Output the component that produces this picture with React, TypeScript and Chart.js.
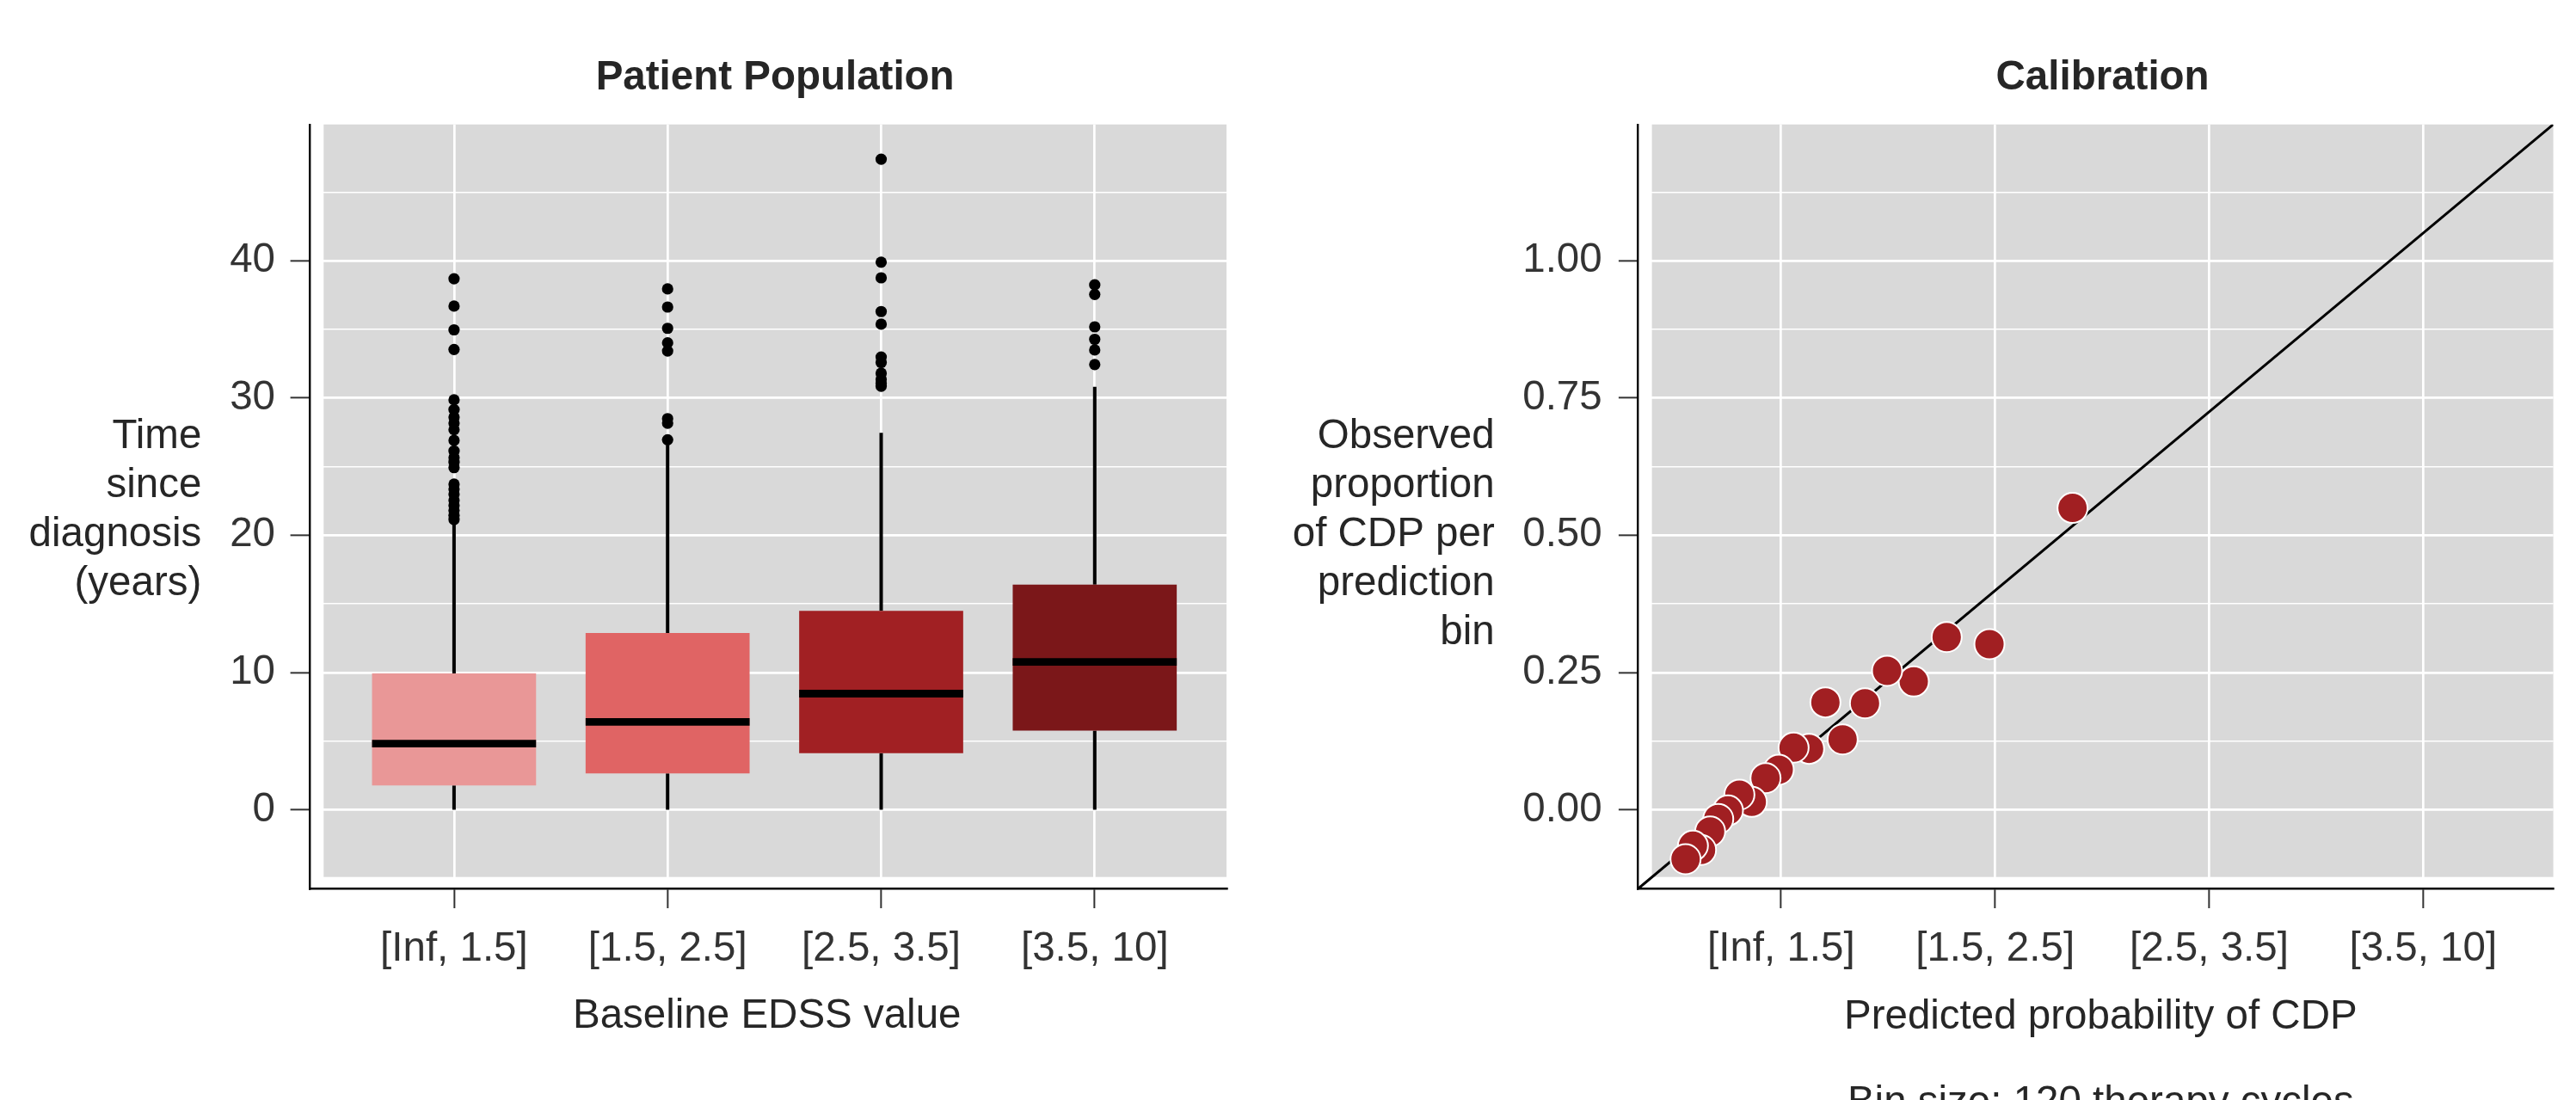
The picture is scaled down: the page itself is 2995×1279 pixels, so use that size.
import React, { useEffect, useRef } from 'react';
import { Chart, registerables } from 'chart.js';

Chart.register(...registerables);

// ---------------- data ----------------
const CATEGORIES = ['[Inf, 1.5]', '[1.5, 2.5]', '[2.5, 3.5]', '[3.5, 10]'];

const BOX_MIN = [0, 0, 0, 0];
const BOX_Q1 = [1.77, 2.65, 4.12, 5.77];
const BOX_MEDIAN = [4.82, 6.4, 8.46, 10.77];
const BOX_Q3 = [9.93, 12.87, 14.49, 16.4];
const BOX_MAX = [21.0, 26.58, 27.46, 30.81];

const OUTLIERS_1 = [38.68, 36.69, 34.96, 33.53, 29.86, 29.15, 28.6, 28.16, 27.68, 26.91, 26.14, 25.66, 25.33, 24.92, 23.72, 23.35, 22.98, 22.54, 22.17, 21.8, 21.44, 21.14];
const OUTLIERS_2 = [37.94, 36.62, 35.07, 34.01, 33.42, 28.49, 28.16, 26.95];
const OUTLIERS_3 = [47.39, 39.89, 38.75, 36.29, 35.37, 32.98, 32.58, 31.8, 31.36, 31.07, 30.85];
const OUTLIERS_4 = [38.24, 37.54, 35.18, 34.27, 33.49, 32.43];
const OUTLIERS = [OUTLIERS_1, OUTLIERS_2, OUTLIERS_3, OUTLIERS_4];

const LEFT_Y_MAJOR = [0, 10, 20, 30, 40];
const LEFT_Y_MINOR = [5, 15, 25, 35, 45];
const LEFT_X_RANGE = [-0.675, 3.617];
const LEFT_Y_RANGE = [-5.75, 49.92];

const PREDICTED = [2.3617, 1.9735, 1.7737, 1.6198, 1.4952, 1.3919, 1.2874, 1.207, 1.1306, 1.0583, 0.9887, 0.9273, 0.8629, 0.8051, 0.7516, 0.7062, 0.6684, 0.6258, 0.588, 0.5535];
const OBSERVED = [0.5497, 0.3015, 0.3145, 0.2337, 0.253, 0.1939, 0.1281, 0.1955, 0.1109, 0.1131, 0.0728, 0.0576, 0.0144, 0.0274, -0.0013, -0.0169, -0.0395, -0.0733, -0.0655, -0.0901];

const RIGHT_X_TICKS = [1, 2, 3, 4];
const RIGHT_Y_MAJOR = [0, 0.25, 0.5, 0.75, 1.0];
const RIGHT_Y_MINOR = [0.125, 0.375, 0.625, 0.875, 1.125];
const RIGHT_X_RANGE = [0.332, 4.608];
const RIGHT_Y_RANGE = [-0.1438, 1.2481];

// ---------------- style ----------------
const FONT = '"Liberation Sans", Arial, Helvetica, sans-serif';
const FONT_SIZE = 47.5;
const TICK_TEXT = '#333333';
const TITLE_TEXT = '#262626';
const PANEL_BG = '#D9D9D9';
const BOX_COLORS = ['#E99797', '#E06464', '#A12023', '#7B1719'];
const POINT_COLOR = '#A11F22';
const INSET_LEFT = 16;
const INSET_BOTTOM = 13.6;

type DecorCfg = {
  title: string;
  yTitle: string[];
  yTitleGap: number;
  xTitle: { text: string; dy: number }[];
  xTitleDx: number;
};

function makeDecor(cfg: DecorCfg) {
  return {
    id: 'panelDecor',
    beforeDraw(chart: any) {
      const { ctx, chartArea: a } = chart;
      ctx.save();
      ctx.fillStyle = PANEL_BG;
      ctx.fillRect(a.left + INSET_LEFT, a.top, a.right - a.left - INSET_LEFT, a.bottom - INSET_BOTTOM - a.top);
      ctx.restore();
    },
    afterDraw(chart: any) {
      const { ctx, chartArea: a } = chart;
      const grayCenter = (a.left + INSET_LEFT + a.right) / 2;
      ctx.save();
      ctx.textBaseline = 'alphabetic';
      // title
      ctx.fillStyle = TITLE_TEXT;
      ctx.font = `bold ${FONT_SIZE}px ${FONT}`;
      ctx.textAlign = 'center';
      ctx.fillText(cfg.title, grayCenter, a.top - 40.7);
      // y title (horizontal, right aligned)
      ctx.font = `${FONT_SIZE}px ${FONT}`;
      ctx.textAlign = 'right';
      cfg.yTitle.forEach((line, i) => {
        ctx.fillText(line, a.left - cfg.yTitleGap, a.top + 376.3 + i * 57);
      });
      // x title
      ctx.textAlign = 'center';
      cfg.xTitle.forEach((t) => {
        ctx.fillText(t.text, grayCenter + cfg.xTitleDx, a.bottom + t.dy);
      });
      ctx.restore();
    },
  };
}

const boxParts = {
  id: 'boxParts',
  beforeDatasetsDraw(chart: any) {
    const { ctx } = chart;
    const xs = chart.scales.x;
    const ys = chart.scales.y;
    ctx.save();
    ctx.strokeStyle = '#000';
    ctx.lineWidth = 4;
    ctx.lineCap = 'butt';
    CATEGORIES.forEach((_, i) => {
      const px = xs.getPixelForValue(i);
      ctx.beginPath();
      ctx.moveTo(px, ys.getPixelForValue(BOX_MIN[i]));
      ctx.lineTo(px, ys.getPixelForValue(BOX_Q1[i]));
      ctx.moveTo(px, ys.getPixelForValue(BOX_Q3[i]));
      ctx.lineTo(px, ys.getPixelForValue(BOX_MAX[i]));
      ctx.stroke();
    });
    ctx.restore();
  },
  afterDatasetsDraw(chart: any) {
    const { ctx } = chart;
    const ys = chart.scales.y;
    const meta = chart.getDatasetMeta(1);
    ctx.save();
    ctx.strokeStyle = '#000';
    ctx.lineWidth = 8.8;
    ctx.lineCap = 'butt';
    meta.data.forEach((bar: any, i: number) => {
      const { x, width } = bar.getProps(['x', 'width'], true);
      const py = ys.getPixelForValue(BOX_MEDIAN[i]);
      ctx.beginPath();
      ctx.moveTo(x - width / 2, py);
      ctx.lineTo(x + width / 2, py);
      ctx.stroke();
    });
    ctx.restore();
  },
};

const tickFont = { family: FONT, size: FONT_SIZE };

function yScale(range: number[], major: number[], minor: number[], width: number, fmt: (v: number) => string, padding: number) {
  const all = [...major, ...minor].sort((a, b) => a - b);
  const isMajor = (v: number) => major.includes(v);
  return {
    type: 'linear',
    min: range[0],
    max: range[1],
    afterBuildTicks: (s: any) => {
      s.ticks = all.map((v) => ({ value: v }));
    },
    afterFit: (s: any) => {
      s.width = width;
    },
    ticks: {
      callback: (v: number) => (isMajor(v) ? fmt(v) : ''),
      font: tickFont,
      color: TICK_TEXT,
      padding,
      autoSkip: false,
    },
    grid: {
      color: '#ffffff',
      lineWidth: (c: any) => (c.tick && isMajor(c.tick.value) ? 2.7 : 1.4),
      tickColor: (c: any) => (c.tick && isMajor(c.tick.value) ? '#333333' : 'rgba(0,0,0,0)'),
      tickLength: 22.7,
      tickWidth: 2,
    },
    border: { display: true, color: '#000000', width: 2.4 },
  };
}

function xScale(range: number[], ticks: number[], labelOf: (v: number) => string, height: number) {
  return {
    type: 'linear',
    min: range[0],
    max: range[1],
    offset: false,
    afterBuildTicks: (s: any) => {
      s.ticks = ticks.map((v) => ({ value: v }));
    },
    afterFit: (s: any) => {
      s.height = height;
    },
    ticks: {
      callback: (v: number) => labelOf(v),
      font: tickFont,
      color: TICK_TEXT,
      padding: 19,
      autoSkip: false,
      maxRotation: 0,
      minRotation: 0,
    },
    grid: {
      color: '#ffffff',
      lineWidth: 2.7,
      offset: false,
      tickColor: '#333333',
      tickLength: 22.7,
      tickWidth: 2,
    },
    border: { display: true, color: '#000000', width: 2.4 },
  };
}

const CANVAS_H = 1279;
const LEFT_W = 1497;
const RIGHT_W = 1498;

function makeLeft(canvas: HTMLCanvasElement) {
  const outlierPts: { x: number; y: number }[] = [];
  OUTLIERS.forEach((arr, i) => arr.forEach((v) => outlierPts.push({ x: i, y: v })));
  return new Chart(canvas, {
    type: 'scatter',
    data: {
      datasets: [
        {
          type: 'scatter',
          data: outlierPts,
          pointRadius: 6.6,
          pointHoverRadius: 6.6,
          backgroundColor: '#000000',
          borderWidth: 0,
          order: 0,
        } as any,
        {
          type: 'bar',
          data: CATEGORIES.map((_, i) => ({ x: i, y: [BOX_Q1[i], BOX_Q3[i]] })),
          backgroundColor: BOX_COLORS,
          borderWidth: 0,
          barPercentage: 0.768,
          categoryPercentage: 1,
          grouped: false,
          order: 1,
        } as any,
      ],
    },
    options: {
      responsive: false,
      animation: false,
      devicePixelRatio: 1,
      events: [],
      layout: { padding: { left: 0, top: 144.7, right: LEFT_W - 1426, bottom: 0 } },
      plugins: { legend: { display: false }, tooltip: { enabled: false } },
      scales: {
        x: xScale(LEFT_X_RANGE, CATEGORIES.map((_, i) => i), (v) => CATEGORIES[v] ?? '', CANVAS_H - 1033.3),
        y: yScale(LEFT_Y_RANGE, LEFT_Y_MAJOR, LEFT_Y_MINOR, 360.3, (v) => String(v), 17.6),
      } as any,
    },
    plugins: [
      makeDecor({
        title: 'Patient Population',
        yTitle: ['Time', 'since', 'diagnosis', '(years)'],
        yTitleGap: 126,
        xTitle: [{ text: 'Baseline EDSS value', dy: 162 }],
        xTitleDx: -9.4,
      }),
      boxParts,
    ],
  } as any);
}

function makeRight(canvas: HTMLCanvasElement) {
  return new Chart(canvas, {
    type: 'scatter',
    data: {
      datasets: [
        {
          type: 'scatter',
          data: PREDICTED.map((p, i) => ({ x: p, y: OBSERVED[i] })),
          pointRadius: 17.5,
          pointHoverRadius: 17.5,
          backgroundColor: POINT_COLOR,
          borderColor: '#ffffff',
          borderWidth: 2,
          order: 0,
        } as any,
        {
          type: 'line',
          data: [
            { x: RIGHT_X_RANGE[0], y: RIGHT_Y_RANGE[0] },
            { x: RIGHT_X_RANGE[1], y: RIGHT_Y_RANGE[1] },
          ],
          borderColor: '#000000',
          borderWidth: 3,
          pointRadius: 0,
          fill: false,
          tension: 0,
          order: 1,
        } as any,
      ],
    },
    options: {
      responsive: false,
      animation: false,
      devicePixelRatio: 1,
      events: [],
      layout: { padding: { left: 0, top: 144.7, right: RIGHT_W - (2968.6 - LEFT_W), bottom: 0 } },
      plugins: { legend: { display: false }, tooltip: { enabled: false } },
      scales: {
        x: xScale(RIGHT_X_RANGE, RIGHT_X_TICKS, (v) => CATEGORIES[v - 1] ?? '', CANVAS_H - 1033.3),
        y: yScale(RIGHT_Y_RANGE, RIGHT_Y_MAJOR, RIGHT_Y_MINOR, 1904.6 - LEFT_W, (v) => v.toFixed(2), 19.2),
      } as any,
    },
    plugins: [
      makeDecor({
        title: 'Calibration',
        yTitle: ['Observed', 'proportion', 'of CDP per', 'prediction', 'bin'],
        yTitleGap: 166.9,
        xTitle: [
          { text: 'Predicted probability of CDP', dy: 162.7 },
          { text: 'Bin size: 120 therapy cycles', dy: 262.4 },
        ],
        xTitleDx: -2.3,
      }),
    ],
  } as any);
}

export default function App() {
  const leftRef = useRef<HTMLCanvasElement>(null);
  const rightRef = useRef<HTMLCanvasElement>(null);
  useEffect(() => {
    const l = makeLeft(leftRef.current as HTMLCanvasElement);
    const r = makeRight(rightRef.current as HTMLCanvasElement);
    return () => {
      l.destroy();
      r.destroy();
    };
  }, []);
  return (
    <div style={{ position: 'fixed', left: 0, top: 0, width: 2995, height: CANVAS_H, background: '#ffffff', overflow: 'hidden' }}>
      <canvas ref={leftRef} width={LEFT_W} height={CANVAS_H} style={{ position: 'absolute', left: 0, top: 0, width: LEFT_W, height: CANVAS_H }} />
      <canvas ref={rightRef} width={RIGHT_W} height={CANVAS_H} style={{ position: 'absolute', left: LEFT_W, top: 0, width: RIGHT_W, height: CANVAS_H }} />
    </div>
  );
}
